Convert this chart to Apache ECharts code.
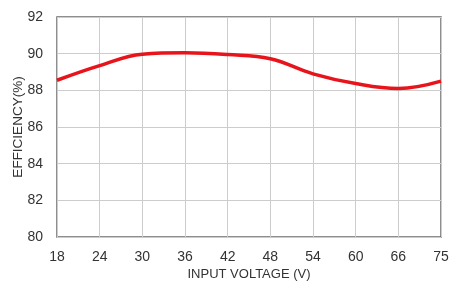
<!DOCTYPE html>
<html><head><meta charset="utf-8">
<script src="https://cdn.jsdelivr.net/npm/echarts@6/dist/echarts.min.js"></script>
<style>html,body{margin:0;padding:0;background:#fff}#c{width:449px;height:282px}</style>
</head><body><div id="c"></div>
<script>
var categories = ['18','24','30','36','42','48','54','60','66','75'];
var efficiency = [88.55, 89.35, 89.97, 90.05, 89.95, 89.72, 88.9, 88.37, 88.1, 88.5];
var yMin = 80, yMax = 92, yStep = 2;

var chart = echarts.init(document.getElementById('c'));
var font = 'Liberation Sans, Arial, sans-serif';
chart.setOption({
  animation: false,
  grid: {left: 57, right: 8, top: 17, bottom: 45, show: true, borderColor: '#6a6a6a', borderWidth: 1.5,
         containLabel: false, outerBoundsMode: 'none'},
  xAxis: {
    type: 'category', data: categories, boundaryGap: false,
    name: 'INPUT VOLTAGE (V)', nameLocation: 'middle', nameGap: 31, nameMoveOverlap: false,
    nameTextStyle: {color: '#333', fontSize: 13, fontFamily: font},
    axisLine: {show: false}, axisTick: {show: false},
    axisLabel: {color: '#333', fontSize: 14, fontFamily: font, margin: 13},
    splitLine: {show: true, lineStyle: {color: '#ccc', width: 1}}
  },
  yAxis: {
    type: 'value', min: yMin, max: yMax, interval: yStep,
    name: 'EFFICIENCY(%)', nameLocation: 'middle', nameGap: 32, nameMoveOverlap: false,
    nameTextStyle: {color: '#333', fontSize: 13.5, fontFamily: font},
    axisLine: {show: false}, axisTick: {show: false},
    axisLabel: {color: '#333', fontSize: 14, fontFamily: font, margin: 14},
    splitLine: {show: true, lineStyle: {color: '#ccc', width: 1}}
  },
  series: [{
    type: 'line', data: efficiency, smooth: 0.4, symbol: 'none',
    lineStyle: {color: '#e8141b', width: 3.5}
  }]
});
</script></body></html>
